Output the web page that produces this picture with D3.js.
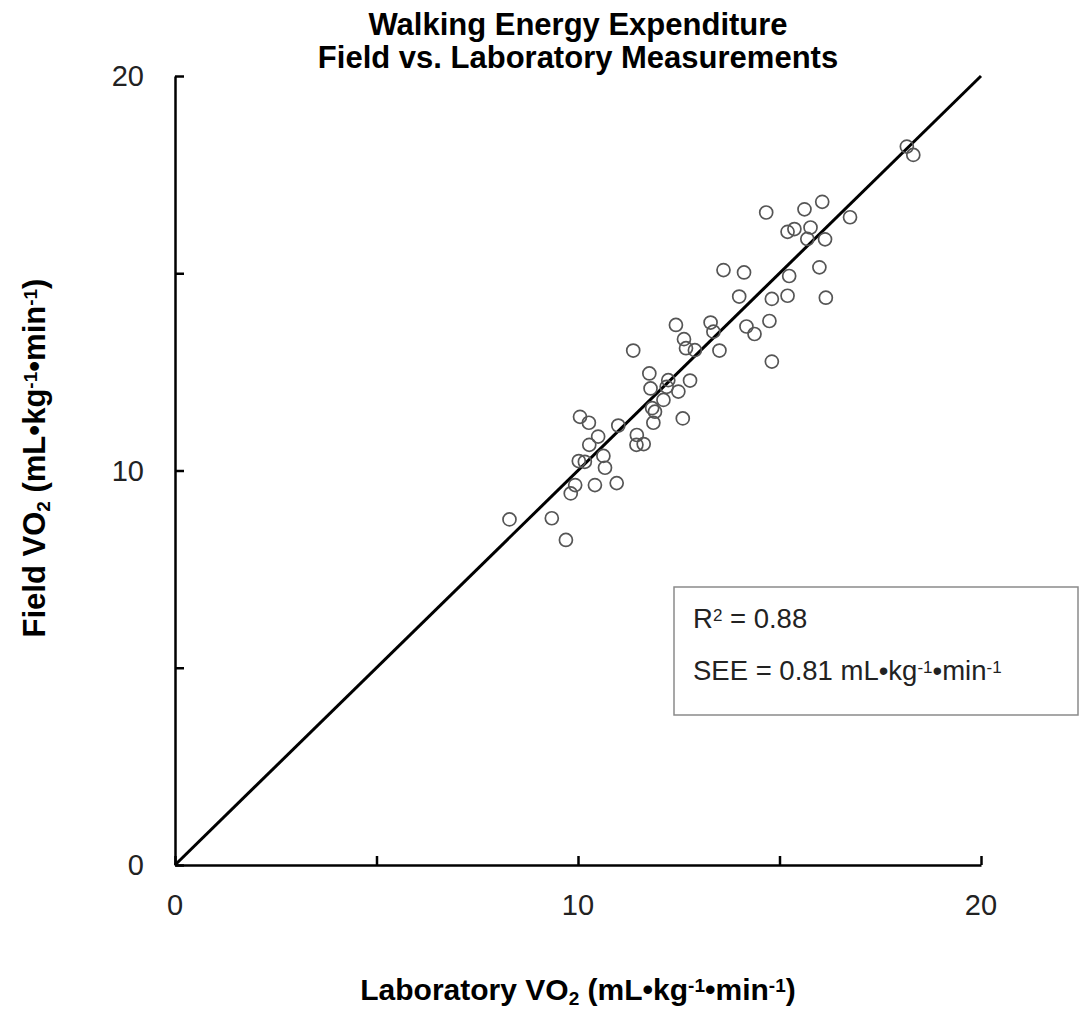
<!DOCTYPE html>
<html>
<head>
<meta charset="utf-8">
<script src="https://cdn.jsdelivr.net/npm/d3@7"></script>
<style>
  body { margin: 0; background: #fff; }
  svg { display: block; font-family: "Liberation Sans", Arial, sans-serif; }
</style>
</head>
<body>
<div id="chart"></div>
<script>
// laboratory vs field VO2 (mL/kg/min)
const labVO2 = [8.30, 9.35, 9.70, 9.82, 9.93, 10.05, 10.27, 10.02, 10.17, 10.28,
  10.42, 10.50, 10.63, 10.67, 10.96, 11.00, 11.37, 11.46, 11.45, 11.63,
  11.77, 11.80, 11.84, 11.91, 11.87, 12.12, 12.20, 12.24, 12.43, 12.49,
  12.60, 12.63, 12.68, 12.78, 12.90, 13.29, 13.36, 13.51, 13.61, 14.00,
  14.12, 14.18, 14.38, 14.67, 14.75, 14.81, 14.81, 15.20, 15.20, 15.24,
  15.37, 15.62, 15.69, 15.77, 15.99, 16.06, 16.13, 16.15, 16.75, 18.16, 18.32];
const fieldVO2 = [8.76, 8.79, 8.24, 9.42, 9.63, 11.36, 11.21, 10.24, 10.22, 10.65,
  9.63, 10.86, 10.37, 10.07, 9.68, 11.14, 13.04, 10.90, 10.65, 10.67,
  12.46, 12.08, 11.58, 11.49, 11.21, 11.79, 12.12, 12.29, 13.69, 12.00,
  11.32, 13.33, 13.10, 12.28, 13.05, 13.75, 13.52, 13.04, 15.08, 14.41,
  15.02, 13.65, 13.46, 16.54, 13.79, 14.35, 12.76, 16.05, 14.43, 14.93,
  16.12, 16.62, 15.87, 16.16, 15.15, 16.81, 15.86, 14.38, 16.42, 18.21, 18.00];

const axisTicks = [0, 5, 10, 15, 20];
const tickLabels = [0, 10, 20];
const identityLine = [0, 20];
const titleLines = ["Walking Energy Expenditure", "Field vs. Laboratory Measurements"];
const rSquared = "0.88";
const see = "0.81";

const width = 1079, height = 1012;
const margin = { top: 76, right: 98, bottom: 147, left: 175 };
const innerWidth = width - margin.left - margin.right;
const innerHeight = height - margin.top - margin.bottom;

const svg = d3.select("#chart").append("svg")
  .attr("width", width)
  .attr("height", height);

const g = svg.append("g")
  .attr("transform", `translate(${margin.left}, ${margin.top})`);

const xScale = d3.scaleLinear().domain([0, 20]).range([0, innerWidth]);
const yScale = d3.scaleLinear().domain([0, 20]).range([innerHeight, 0]);

// title, one text per line
svg.selectAll(".title")
  .data(titleLines)
  .join("text")
  .attr("class", "title")
  .attr("x", margin.left + innerWidth / 2)
  .attr("y", (d, i) => 35 + i * 33)
  .attr("text-anchor", "middle")
  .style("font-weight", "bold")
  .style("font-size", "31px")
  .text(d => d);

// axes (ticks point inward, labels only on 0/10/20)
const xAxis = d3.axisBottom(xScale).tickValues(axisTicks)
  .tickSizeInner(-9).tickSizeOuter(0).tickFormat("");
const yAxis = d3.axisLeft(yScale).tickValues(axisTicks)
  .tickSizeInner(-9).tickSizeOuter(0).tickFormat("");

g.append("g")
  .attr("transform", `translate(0, ${innerHeight})`)
  .call(xAxis)
  .call(a => a.selectAll("path, line").attr("stroke", "#000").attr("stroke-width", 2.5));

g.append("g")
  .call(yAxis)
  .call(a => a.selectAll("path, line").attr("stroke", "#000").attr("stroke-width", 2.5));

g.append("g").selectAll("text")
  .data(tickLabels)
  .join("text")
  .attr("x", d => xScale(d))
  .attr("y", innerHeight + 50)
  .attr("text-anchor", "middle")
  .style("font-size", "29px")
  .attr("fill", "#222")
  .text(d => d);

g.append("g").selectAll("text")
  .data(tickLabels)
  .join("text")
  .attr("x", -31)
  .attr("y", d => yScale(d) + 10)
  .attr("text-anchor", "end")
  .style("font-size", "29px")
  .attr("fill", "#222")
  .text(d => d);

// line of identity
g.append("line")
  .attr("x1", xScale(identityLine[0]))
  .attr("y1", yScale(identityLine[0]))
  .attr("x2", xScale(identityLine[1]))
  .attr("y2", yScale(identityLine[1]))
  .attr("stroke", "#000")
  .attr("stroke-width", 3);

// data points
g.selectAll(".dot")
  .data(labVO2)
  .join("circle")
  .attr("class", "dot")
  .attr("cx", d => xScale(d))
  .attr("cy", (d, i) => yScale(fieldVO2[i]))
  .attr("r", 6.5)
  .attr("fill", "none")
  .attr("stroke", "#555")
  .attr("stroke-width", 1.7);

// unit text with super/subscripts
function unitLabel(sel, prefix, size) {
  const small = Math.round(size * 0.62) + "px";
  sel.append("tspan").text(prefix + "VO");
  sel.append("tspan").attr("baseline-shift", "-25%").style("font-size", small).text("2");
  sel.append("tspan").text(" (mL•kg");
  sel.append("tspan").attr("baseline-shift", "40%").style("font-size", small).text("-1");
  sel.append("tspan").text("•min");
  sel.append("tspan").attr("baseline-shift", "40%").style("font-size", small).text("-1");
  sel.append("tspan").text(")");
}

svg.append("text")
  .attr("x", margin.left + innerWidth / 2)
  .attr("y", 1000)
  .attr("text-anchor", "middle")
  .style("font-weight", "bold")
  .style("font-size", "30px")
  .call(unitLabel, "Laboratory ", 30);

svg.append("text")
  .attr("transform", "translate(45, 458) rotate(-90)")
  .attr("text-anchor", "middle")
  .style("font-weight", "bold")
  .style("font-size", "31px")
  .call(unitLabel, "Field ", 31);

// stats box
svg.append("rect")
  .attr("x", 674)
  .attr("y", 587)
  .attr("width", 404)
  .attr("height", 128)
  .attr("fill", "#fff")
  .attr("stroke", "#8a8a8a")
  .attr("stroke-width", 1.5);

const r2 = svg.append("text")
  .attr("x", 693)
  .attr("y", 628)
  .style("font-size", "27.5px")
  .attr("fill", "#222");
r2.append("tspan").text("R");
r2.append("tspan").attr("baseline-shift", "40%").style("font-size", "17px").text("2");
r2.append("tspan").text(" = " + rSquared);

const seeText = svg.append("text")
  .attr("x", 693)
  .attr("y", 680)
  .style("font-size", "27.5px")
  .attr("fill", "#222");
seeText.append("tspan").text("SEE = " + see + " mL•kg");
seeText.append("tspan").attr("baseline-shift", "40%").style("font-size", "17px").text("-1");
seeText.append("tspan").text("•min");
seeText.append("tspan").attr("baseline-shift", "40%").style("font-size", "17px").text("-1");
</script>
</body>
</html>
